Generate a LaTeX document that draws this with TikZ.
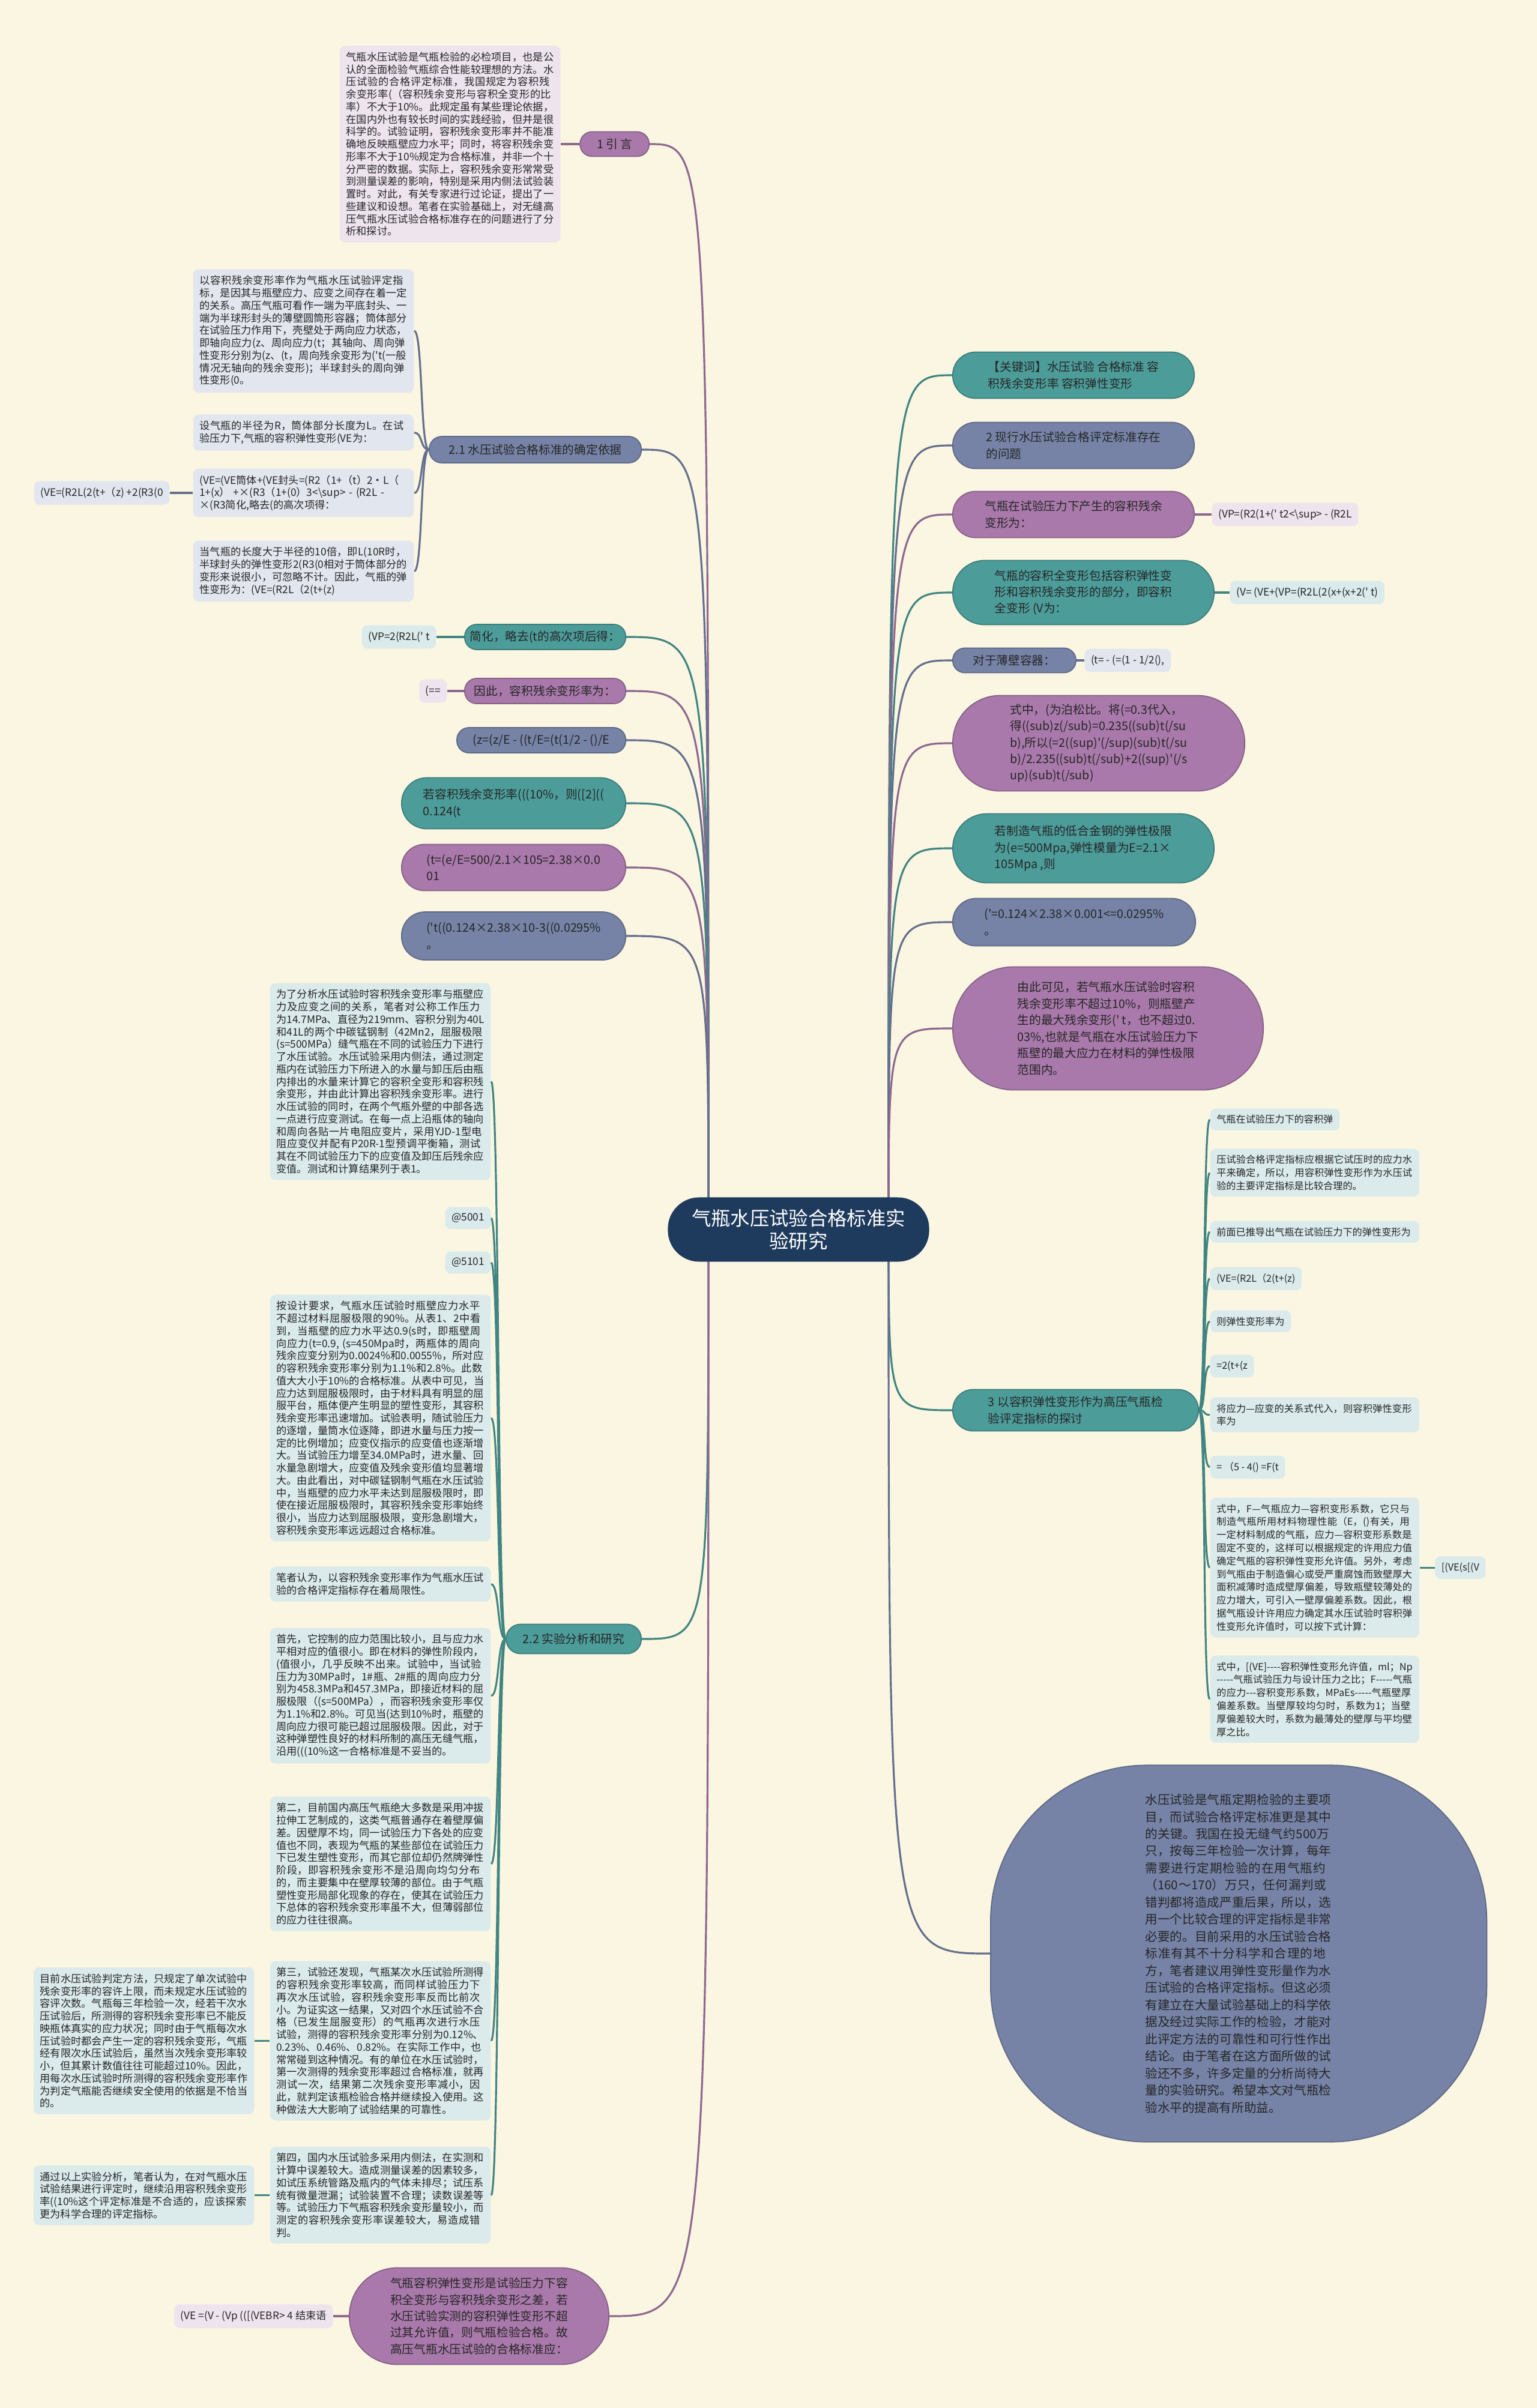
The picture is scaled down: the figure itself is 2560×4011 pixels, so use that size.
\documentclass[tikz,border=0pt]{standalone}
\usepackage{fontspec}
\setmainfont{Noto Sans CJK SC}[Ligatures=TeXOff]
\usetikzlibrary{positioning,backgrounds}
\XeTeXlinebreaklocale "zh"
\XeTeXlinebreakskip=0pt plus 1pt

\definecolor{bgcream}{RGB}{251,246,226}
\definecolor{rootblue}{RGB}{30,58,92}
\definecolor{teal1}{RGB}{76,156,154}
\definecolor{plum1}{RGB}{168,121,170}
\definecolor{slate1}{RGB}{118,131,166}
\definecolor{tealleaf}{RGB}{219,234,235}
\definecolor{plumleaf}{RGB}{237,228,238}
\definecolor{slateleaf}{RGB}{226,230,239}

\newcommand\hubfont{\fontsize{9.2pt}{11pt}\selectfont}
\newcommand\topicfont{\fontsize{5.6pt}{7.8pt}\selectfont}
\newcommand\summfont{\fontsize{5.85pt}{8.1pt}\selectfont}
\newcommand\leaffont{\fontsize{4.9pt}{5.9pt}\selectfont}
\newcommand\listfont{\fontsize{4.6pt}{6.2pt}\selectfont}

\begin{document}
\begin{tikzpicture}[
	x=0.01cm, y=-0.01cm,
	hub/.style={ fill=rootblue, text=white, font=\hubfont, align=center, inner sep=0pt, minimum width=4.35cm, minimum height=1.07cm, rounded corners=0.52cm },
	topic/.style={ draw=#1!80!black, line width=0.5pt, fill=#1, text=black!85, font=\topicfont, align=left, inner sep=0pt },
	leaf/.style={ fill=#1, rounded corners=2.5pt, inner xsep=3pt, inner ysep=3pt, text=black!85, font=\leaffont, align=left },
	link/.style={ draw=#1!85!black, line width=0.9pt }
]
\useasboundingbox (0,0) rectangle (2560,4011);

\node[hub] (hub) at (1330,2048) {气瓶水压试验合格标准实\\验研究};
\coordinate (hubR) at (1480,2048);
\coordinate (hubL) at (1180,2048);

\node[topic=teal1, anchor=west, minimum width=4.02cm, minimum height=0.77cm, rounded corners=0.38cm] (kw) at (1586,625) {【关键词】水压试验 合格标准 容\\积残余变形率 容积弹性变形};
\node[topic=slate1, anchor=west, minimum width=4.02cm, minimum height=0.77cm, rounded corners=0.38cm] (s2) at (1586,742) {2 现行水压试验合格评定标准存在\\的问题};
\node[topic=plum1, anchor=west, minimum width=4.02cm, minimum height=0.77cm, rounded corners=0.38cm] (vp) at (1586,857) {气瓶在试验压力下产生的容积残余\\变形为：};
\node[topic=teal1, anchor=west, minimum width=4.35cm, minimum height=1.07cm, rounded corners=0.53cm] (vfull) at (1586,987) {气瓶的容积全变形包括容积弹性变\\形和容积残余变形的部分，即容积\\全变形 (V为：};
\node[topic=slate1, anchor=west, minimum width=2.05cm, minimum height=0.41cm, rounded corners=0.2cm] (thin) at (1586,1100) {对于薄壁容器：};
\node[topic=plum1, anchor=west, minimum width=4.86cm, minimum height=1.59cm, rounded corners=0.79cm] (poisson) at (1586,1238) {式中，(为泊松比。将(=0.3代入，\\得((sub)z(/sub)=0.235((sub)t(/su\\b),所以(=2((sup)'(/sup)(sub)t(/su\\b)/2.235((sub)t(/sub)+2((sup)'(/s\\up)(sub)t(/sub)};
\node[topic=teal1, anchor=west, minimum width=4.35cm, minimum height=1.15cm, rounded corners=0.57cm] (steel) at (1586,1413) {若制造气瓶的低合金钢的弹性极限\\为(e=500Mpa,弹性模量为E=2.1×\\105Mpa ,则};
\node[topic=slate1, anchor=west, minimum width=4.04cm, minimum height=0.79cm, rounded corners=0.39cm] (eps) at (1586,1536) {('=0.124×2.38×0.001<=0.0295\%\\。};
\node[topic=plum1, anchor=west, minimum width=5.17cm, minimum height=2.05cm, rounded corners=1.02cm] (seen) at (1586,1713) {由此可见，若气瓶水压试验时容积\\残余变形率不超过10\%，则瓶壁产\\生的最大残余变形(' t，也不超过0.\\03\%,也就是气瓶在水压试验压力下\\瓶壁的最大应力在材料的弹性极限\\范围内。};
\node[topic=teal1, anchor=west, minimum width=4.09cm, minimum height=0.69cm, rounded corners=0.34cm] (s3) at (1586,2349) {3 以容积弹性变形作为高压气瓶检\\验评定指标的探讨};
\node[topic=slate1, anchor=west, minimum width=8.26cm, minimum height=6.27cm, rounded corners=2.6cm, font=\summfont, text width=88.5pt] (summ) at (1649,3254) {水压试验是气瓶定期检验的主要项目，而试验合格评定标准更是其中的关键。我国在投无缝气约500万只，按每三年检验一次计算，每年需要进行定期检验的在用气瓶约（160～170）万只，任何漏判或错判都将造成严重后果，所以，选用一个比较合理的评定指标是非常必要的。目前采用的水压试验合格标准有其不十分科学和合理的地方，笔者建议用弹性变形量作为水压试验的合格评定指标。但这必须有建立在大量试验基础上的科学依据及经过实际工作的检验，才能对此评定方法的可靠性和可行性作出结论。由于笔者在这方面所做的试验还不多，许多定量的分析尚待大量的实验研究。希望本文对气瓶检验水平的提高有所助益。};

\node[topic=plum1, anchor=east, minimum width=1.15cm, minimum height=0.41cm, rounded corners=0.2cm] (intro) at (1082,240) {1 引 言};
\node[topic=slate1, anchor=east, minimum width=3.53cm, minimum height=0.44cm, rounded corners=0.21cm] (s21) at (1069,749) {2.1 水压试验合格标准的确定依据};
\node[topic=teal1, anchor=east, minimum width=2.68cm, minimum height=0.42cm, rounded corners=0.2cm] (simp) at (1043,1061) {简化，略去(t的高次项后得：};
\node[topic=plum1, anchor=east, minimum width=2.68cm, minimum height=0.42cm, rounded corners=0.2cm] (therefore) at (1043,1151) {因此，容积残余变形率为：};
\node[topic=slate1, anchor=east, minimum width=2.81cm, minimum height=0.42cm, rounded corners=0.2cm] (zeq) at (1043,1233) {(z=(z/E - ((t/E=(t(1/2 - ()/E};
\node[topic=teal1, anchor=east, minimum width=3.73cm, minimum height=0.85cm, rounded corners=0.42cm] (ifrate) at (1043,1338) {若容积残余变形率(((10\%，则([2]((\\0.124(t};
\node[topic=plum1, anchor=east, minimum width=3.73cm, minimum height=0.77cm, rounded corners=0.38cm] (teq) at (1043,1445) {(t=(e/E=500/2.1×105=2.38×0.0\\01};
\node[topic=slate1, anchor=east, minimum width=3.73cm, minimum height=0.8cm, rounded corners=0.39cm] (tpr) at (1043,1559) {('t((0.124×2.38×10-3((0.0295\%\\。};
\node[topic=teal1, anchor=east, minimum width=2.25cm, minimum height=0.49cm, rounded corners=0.24cm] (s22) at (1069,2730) {2.2 实验分析和研究};
\node[topic=plum1, anchor=east, minimum width=4.32cm, minimum height=1.61cm, rounded corners=0.8cm] (concl) at (1015,3858) {气瓶容积弹性变形是试验压力下容\\积全变形与容积残余变形之差，若\\水压试验实测的容积弹性变形不超\\过其允许值，则气瓶检验合格。故\\高压气瓶水压试验的合格标准应：};

\node[leaf=plumleaf, text width=98.5pt, left=0.31cm of intro] (introtxt) {气瓶水压试验是气瓶检验的必检项目，也是公认的全面检验气瓶综合性能较理想的方法。水压试验的合格评定标准，我国规定为容积残余变形率(（容积残余变形与容积全变形的比率）不大于10\%。此规定虽有某些理论依据，在国内外也有较长时间的实践经验，但并是很科学的。试验证明，容积残余变形率并不能准确地反映瓶壁应力水平；同时，将容积残余变形率不大于10\%规定为合格标准，并非一个十分严密的数据。实际上，容积残余变形常常受到测量误差的影响，特别是采用内侧法试验装置时。对此，有关专家进行过论证，提出了一些建议和设想。笔者在实验基础上，对无缝高压气瓶水压试验合格标准存在的问题进行了分析和探讨。};

\node[leaf=slateleaf, text width=98.5pt, anchor=north east] (a21) at (690,448) {以容积残余变形率作为气瓶水压试验评定指标，是因其与瓶壁应力、应变之间存在着一定的关系。高压气瓶可看作一端为平底封头、一端为半球形封头的薄壁圆筒形容器；筒体部分在试验压力作用下，壳壁处于两向应力状态，即轴向应力(z、周向应力(t；其轴向、周向弹性变形分别为(z、(t，周向残余变形为('t(一般情况无轴向的残余变形)；半球封头的周向弹性变形(0。};
\node[leaf=slateleaf, text width=98.5pt, anchor=north east] (b21) at (690,690) {设气瓶的半径为R，筒体部分长度为L。在试验压力下,气瓶的容积弹性变形(VE为：};
\node[leaf=slateleaf, text width=98.5pt, anchor=north east] (c21) at (690,780) {(VE=(VE筒体+(VE封头=(R2（1+（t）2·L（\\1+(x） +×(R3（1+(0）3<\textbackslash sup> - (R2L -\\×(R3简化,略去(的高次项得：};
\node[leaf=slateleaf, text width=98.5pt, anchor=north east] (d21) at (690,900) {当气瓶的长度大于半径的10倍，即L(10R时，半球封头的弹性变形2(R3(0相对于筒体部分的变形来说很小，可忽略不计。因此，气瓶的弹性变形为：(VE=(R2L（2(t+(z)};
\node[leaf=slateleaf, left=0.38cm of c21] (c21c) {(VE=(R2L(2(t+（z) +2(R3(0};

\node[leaf=tealleaf, left=0.46cm of simp] (simpc) {(VP=2(R2L(' t};
\node[leaf=plumleaf, left=0.28cm of therefore] (thereforec) {(==};

\node[leaf=tealleaf, text width=98.5pt, anchor=north east] (e1) at (818,1637) {为了分析水压试验时容积残余变形率与瓶壁应力及应变之间的关系，笔者对公称工作压力为14.7MPa、直径为219mm、容积分别为40L和41L的两个中碳锰钢制（42Mn2，屈服极限(s=500MPa）缝气瓶在不同的试验压力下进行了水压试验。水压试验采用内侧法，通过测定瓶内在试验压力下所进入的水量与卸压后由瓶内排出的水量来计算它的容积全变形和容积残余变形，并由此计算出容积残余变形率。进行水压试验的同时，在两个气瓶外壁的中部各选一点进行应变测试。在每一点上沿瓶体的轴向和周向各贴一片电阻应变片，采用YJD-1型电阻应变仪并配有P20R-1型预调平衡箱，测试其在不同试验压力下的应变值及卸压后残余应变值。测试和计算结果列于表1。};
\node[leaf=tealleaf, anchor=north east] (e2) at (818,2010) {@5001};
\node[leaf=tealleaf, anchor=north east] (e3) at (818,2084) {@5101};
\node[leaf=tealleaf, text width=98.5pt, anchor=north east] (e4) at (818,2156) {按设计要求，气瓶水压试验时瓶壁应力水平不超过材料屈服极限的90\%。从表1、2中看到，当瓶壁的应力水平达0.9(s时，即瓶壁周向应力(t=0.9, (s=450Mpa时，两瓶体的周向残余应变分别为0.0024\%和0.0055\%，所对应的容积残余变形率分别为1.1\%和2.8\%。此数值大大小于10\%的合格标准。从表中可见，当应力达到屈服极限时，由于材料具有明显的屈服平台，瓶体便产生明显的塑性变形，其容积残余变形率迅速增加。试验表明，随试验压力的逐增，量筒水位逐降，即进水量与压力按一定的比例增加；应变仪指示的应变值也逐渐增大。当试验压力增至34.0MPa时，进水量、回水量急剧增大，应变值及残余变形值均显著增大。由此看出，对中碳锰钢制气瓶在水压试验中，当瓶壁的应力水平未达到屈服极限时，即使在接近屈服极限时，其容积残余变形率始终很小，当应力达到屈服极限，变形急剧增大，容积残余变形率远远超过合格标准。};
\node[leaf=tealleaf, text width=98.5pt, anchor=north east] (e5) at (818,2609) {笔者认为，以容积残余变形率作为气瓶水压试验的合格评定指标存在着局限性。};
\node[leaf=tealleaf, text width=98.5pt, anchor=north east] (e6) at (818,2711) {首先，它控制的应力范围比较小，且与应力水平相对应的值很小。即在材料的弹性阶段内，(值很小，几乎反映不出来。试验中，当试验压力为30MPa时，1\#瓶、2\#瓶的周向应力分别为458.3MPa和457.3MPa，即接近材料的屈服极限（(s=500MPa），而容积残余变形率仅为1.1\%和2.8\%。可见当(达到10\%时，瓶壁的周向应力很可能已超过屈服极限。因此，对于这种弹塑性良好的材料所制的高压无缝气瓶，沿用(((10\%这一合格标准是不妥当的。};
\node[leaf=tealleaf, text width=98.5pt, anchor=north east] (e7) at (818,2992) {第二，目前国内高压气瓶绝大多数是采用冲拔拉伸工艺制成的，这类气瓶普通存在着壁厚偏差。因壁厚不均，同一试验压力下各处的应变值也不同，表现为气瓶的某些部位在试验压力下已发生塑性变形，而其它部位却仍然牌弹性阶段，即容积残余变形不是沿周向均匀分布的，而主要集中在壁厚较薄的部位。由于气瓶塑性变形局部化现象的存在，使其在试验压力下总体的容积残余变形率虽不大，但薄弱部位的应力往往很高。};
\node[leaf=tealleaf, text width=98.5pt, anchor=north east] (e8) at (818,3266) {第三，试验还发现，气瓶某次水压试验所测得的容积残余变形率较高，而同样试验压力下再次水压试验，容积残余变形率反而比前次小。为证实这一结果，又对四个水压试验不合格（已发生屈服变形）的气瓶再次进行水压试验，测得的容积残余变形率分别为0.12\%、0.23\%、0.46\%、0.82\%。在实际工作中，也常常碰到这种情况。有的单位在水压试验时，第一次测得的残余变形率超过合格标准，就再测试一次，结果第二次残余变形率减小，因此，就判定该瓶检验合格并继续投入使用。这种做法大大影响了试验结果的可靠性。};
\node[leaf=tealleaf, text width=98.5pt, anchor=north east] (e9) at (818,3575) {第四，国内水压试验多采用内侧法，在实测和计算中误差较大。造成测量误差的因素较多，如试压系统管路及瓶内的气体未排尽；试压系统有微量泄漏；试验装置不合理；读数误差等等。试验压力下气瓶容积残余变形量较小，而测定的容积残余变形率误差较大，易造成错判。};
\node[leaf=tealleaf, text width=98.5pt, left=0.25cm of e8] (e8c) {目前水压试验判定方法，只规定了单次试验中残余变形率的容许上限，而未规定水压试验的容评次数。气瓶每三年检验一次，经若干次水压试验后，所测得的容积残余变形率已不能反映瓶体真实的应力状况；同时由于气瓶每次水压试验时都会产生一定的容积残余变形，气瓶经有限次水压试验后，虽然当次残余变形率较小，但其累计数值往往可能超过10\%。因此，用每次水压试验时所测得的容积残余变形率作为判定气瓶能否继续安全使用的依据是不恰当的。};
\node[leaf=tealleaf, text width=98.5pt, left=0.25cm of e9] (e9c) {通过以上实验分析，笔者认为，在对气瓶水压试验结果进行评定时，继续沿用容积残余变形率((10\%这个评定标准是不合适的，应该探索更为科学合理的评定指标。};

\node[leaf=plumleaf, left=0.26cm of concl] (conclc) {(VE =(V - (Vp (([(VEBR> 4 结束语};

\node[leaf=plumleaf, right=0.28cm of vp] (vpc) {(VP=(R2(1+(' t2<\textbackslash sup> - (R2L};
\node[leaf=tealleaf, right=0.25cm of vfull] (vfullc) {(V= (VE+(VP=(R2L(2(x+(x+2(' t)};
\node[leaf=slateleaf, right=0.13cm of thin] (thinc) {(t= - (=(1 - 1/2(),};

\node[leaf=tealleaf, font=\listfont, anchor=north west] (f1) at (2015,1846) {气瓶在试验压力下的容积弹};
\node[leaf=tealleaf, font=\listfont, text width=93pt, anchor=north west] (f2) at (2015,1913) {压试验合格评定指标应根据它试压时的应力水平来确定，所以，用容积弹性变形作为水压试验的主要评定指标是比较合理的。};
\node[leaf=tealleaf, font=\listfont, text width=93pt, anchor=north west] (f3) at (2015,2033) {前面已推导出气瓶在试验压力下的弹性变形为};
\node[leaf=tealleaf, font=\listfont, anchor=north west] (f4) at (2015,2110) {(VE=(R2L（2(t+(z)};
\node[leaf=tealleaf, font=\listfont, anchor=north west] (f5) at (2015,2182) {则弹性变形率为};
\node[leaf=tealleaf, font=\listfont, anchor=north west] (f6) at (2015,2256) {=2(t+(z};
\node[leaf=tealleaf, font=\listfont, text width=93pt, anchor=north west] (f7) at (2015,2327) {将应力—应变的关系式代入，则容积弹性变形率为};
\node[leaf=tealleaf, font=\listfont, anchor=north west] (f8) at (2015,2424) {= （5 - 4() =F(t};
\node[leaf=tealleaf, font=\listfont, text width=93pt, anchor=north west] (f9) at (2015,2494) {式中，F—气瓶应力—容积变形系数，它只与制造气瓶所用材料物理性能（E，()有关，用一定材料制成的气瓶，应力—容积变形系数是固定不变的，这样可以根据规定的许用应力值确定气瓶的容积弹性变形允许值。另外，考虑到气瓶由于制造偏心或受严重腐蚀而致壁厚大面积减薄时造成壁厚偏差，导致瓶壁较薄处的应力增大，可引入一壁厚偏差系数。因此，根据气瓶设计许用应力确定其水压试验时容积弹性变形允许值时，可以按下式计算：};
\node[leaf=tealleaf, font=\listfont, text width=93pt, anchor=north west] (f10) at (2015,2757) {式中，[(VE]----容积弹性变形允许值，ml；Np -----气瓶试验压力与设计压力之比；F-----气瓶的应力---容积变形系数，MPaEs-----气瓶壁厚偏差系数。当壁厚较均匀时，系数为1；当壁厚偏差较大时，系数为最薄处的壁厚与平均壁厚之比。};
\node[leaf=tealleaf, font=\listfont, right=0.25cm of f9] (f9c) {[(VE(s[(V};

\draw[link=plum1] (intro.west) -- (introtxt.east);
\draw[link=slate1] (s21.west) .. controls +(-14,0) and +(14,0) .. (a21.east);
\draw[link=slate1] (s21.west) .. controls +(-14,0) and +(14,0) .. (b21.east);
\draw[link=slate1] (s21.west) .. controls +(-14,0) and +(14,0) .. (c21.east);
\draw[link=slate1] (s21.west) .. controls +(-14,0) and +(14,0) .. (d21.east);
\draw[link=slate1] (c21.west) -- (c21c.east);
\draw[link=teal1] (simp.west) -- (simpc.east);
\draw[link=plum1] (therefore.west) -- (thereforec.east);

\draw[link=teal1] (s22.west) .. controls +(-14,0) and +(14,0) .. (e1.east);
\draw[link=teal1] (s22.west) .. controls +(-14,0) and +(14,0) .. (e2.east);
\draw[link=teal1] (s22.west) .. controls +(-14,0) and +(14,0) .. (e3.east);
\draw[link=teal1] (s22.west) .. controls +(-14,0) and +(14,0) .. (e4.east);
\draw[link=teal1] (s22.west) .. controls +(-14,0) and +(14,0) .. (e5.east);
\draw[link=teal1] (s22.west) .. controls +(-14,0) and +(14,0) .. (e6.east);
\draw[link=teal1] (s22.west) .. controls +(-14,0) and +(14,0) .. (e7.east);
\draw[link=teal1] (s22.west) .. controls +(-14,0) and +(14,0) .. (e8.east);
\draw[link=teal1] (s22.west) .. controls +(-14,0) and +(14,0) .. (e9.east);
\draw[link=teal1] (e8.west) -- (e8c.east);
\draw[link=teal1] (e9.west) -- (e9c.east);
\draw[link=plum1] (concl.west) -- (conclc.east);

\draw[link=plum1] (vp.east) -- (vpc.west);
\draw[link=teal1] (vfull.east) -- (vfullc.west);
\draw[link=slate1] (thin.east) -- (thinc.west);
\draw[link=teal1] (s3.east) .. controls +(12,0) and +(-12,0) .. (f1.west);
\draw[link=teal1] (s3.east) .. controls +(12,0) and +(-12,0) .. (f2.west);
\draw[link=teal1] (s3.east) .. controls +(12,0) and +(-12,0) .. (f3.west);
\draw[link=teal1] (s3.east) .. controls +(12,0) and +(-12,0) .. (f4.west);
\draw[link=teal1] (s3.east) .. controls +(12,0) and +(-12,0) .. (f5.west);
\draw[link=teal1] (s3.east) .. controls +(12,0) and +(-12,0) .. (f6.west);
\draw[link=teal1] (s3.east) .. controls +(12,0) and +(-12,0) .. (f7.west);
\draw[link=teal1] (s3.east) .. controls +(12,0) and +(-12,0) .. (f8.west);
\draw[link=teal1] (s3.east) .. controls +(12,0) and +(-12,0) .. (f9.west);
\draw[link=teal1] (s3.east) .. controls +(12,0) and +(-12,0) .. (f10.west);
\draw[link=teal1] (f9.east) -- (f9c.west);

\begin{scope}[on background layer]
\fill[bgcream] (0,0) rectangle (2560,4011);
\draw[link=teal1] (hubR) .. controls (hubR |- kw.west) .. (kw.west);
\draw[link=slate1] (hubR) .. controls (hubR |- s2.west) .. (s2.west);
\draw[link=plum1] (hubR) .. controls (hubR |- vp.west) .. (vp.west);
\draw[link=teal1] (hubR) .. controls (hubR |- vfull.west) .. (vfull.west);
\draw[link=slate1] (hubR) .. controls (hubR |- thin.west) .. (thin.west);
\draw[link=plum1] (hubR) .. controls (hubR |- poisson.west) .. (poisson.west);
\draw[link=teal1] (hubR) .. controls (hubR |- steel.west) .. (steel.west);
\draw[link=slate1] (hubR) .. controls (hubR |- eps.west) .. (eps.west);
\draw[link=plum1] (hubR) .. controls (hubR |- seen.west) .. (seen.west);
\draw[link=teal1] (hubR) .. controls (hubR |- s3.west) .. (s3.west);
\draw[link=slate1] (hubR) .. controls (hubR |- summ.west) .. (summ.west);

\draw[link=plum1] (hubL) .. controls (hubL |- intro.east) .. (intro.east);
\draw[link=slate1] (hubL) .. controls (hubL |- s21.east) .. (s21.east);
\draw[link=teal1] (hubL) .. controls (hubL |- simp.east) .. (simp.east);
\draw[link=plum1] (hubL) .. controls (hubL |- therefore.east) .. (therefore.east);
\draw[link=slate1] (hubL) .. controls (hubL |- zeq.east) .. (zeq.east);
\draw[link=teal1] (hubL) .. controls (hubL |- ifrate.east) .. (ifrate.east);
\draw[link=plum1] (hubL) .. controls (hubL |- teq.east) .. (teq.east);
\draw[link=slate1] (hubL) .. controls (hubL |- tpr.east) .. (tpr.east);
\draw[link=teal1] (hubL) .. controls (hubL |- s22.east) .. (s22.east);
\draw[link=plum1] (hubL) .. controls (hubL |- concl.east) .. (concl.east);
\end{scope}

\end{tikzpicture}
\end{document}
